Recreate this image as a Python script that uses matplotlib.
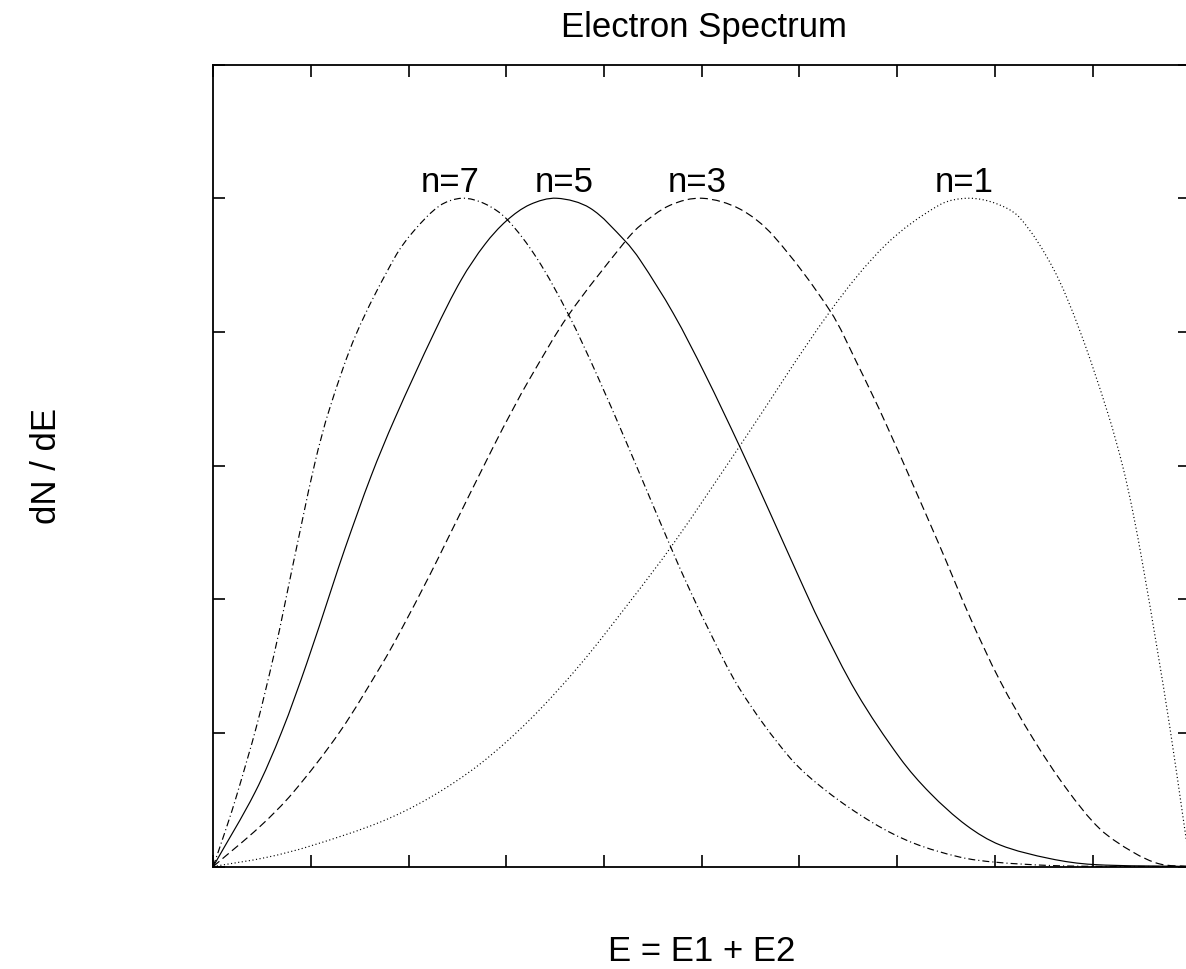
import matplotlib
matplotlib.use("Agg")
import numpy as np
import matplotlib.pyplot as plt
from matplotlib.path import Path
from matplotlib.patches import PathPatch

plt.rcParams['font.family'] = ['Liberation Sans', 'DejaVu Sans']
plt.rcParams['lines.scale_dashes'] = False

# ---- data (E/Q on x, normalized dN/dE on y) ----
n7_x = [0.0, 0.0138, 0.0241, 0.0445, 0.0622, 0.0730, 0.0807, 0.1039, 0.1192, 0.1465,
        0.1858, 0.2045, 0.2318, 0.2547, 0.2782, 0.3004, 0.3311, 0.3635, 0.3925, 0.4232,
        0.4386, 0.4709, 0.4844, 0.5051, 0.5392, 0.5904, 0.6279, 0.6756, 0.7166, 0.7644,
        0.8002, 0.8565, 0.9077, 1.0]
n7_y = [0.0, 0.0593, 0.1067, 0.2107, 0.3169, 0.3903, 0.4450, 0.6028, 0.6854, 0.7973,
        0.9113, 0.9496, 0.9888, 1.0, 0.9916, 0.9689, 0.9106, 0.8264, 0.7365, 0.6337,
        0.5806, 0.4692, 0.4247, 0.3605, 0.2650, 0.1626, 0.1127, 0.0650, 0.0351, 0.0140,
        0.0065, 0.0015, 0.0002, 0.0]

n5_x = [0.0, 0.0428, 0.0701, 0.0957, 0.1213, 0.1349, 0.1618, 0.1858, 0.2267, 0.2539,
        0.2782, 0.3004, 0.3243, 0.3516, 0.3857, 0.4215, 0.4368, 0.4709, 0.5034, 0.5392,
        0.5699, 0.6006, 0.6211, 0.6587, 0.7030, 0.7337, 0.7712, 0.8053, 0.8565, 0.9005, 1.0]
n5_y = [0.0, 0.1110, 0.2014, 0.3038, 0.4164, 0.4760, 0.5850, 0.6700, 0.8003, 0.8780,
        0.9312, 0.9666, 0.9906, 1.0, 0.9853, 0.9362, 0.9079, 0.8278, 0.7368, 0.6276,
        0.5294, 0.4296, 0.3650, 0.2597, 0.1622, 0.1100, 0.0613, 0.0323, 0.0118, 0.0030, 0.0]

n3_x = [0.0, 0.0479, 0.0817, 0.1298, 0.1725, 0.1912, 0.2216, 0.2390, 0.2867, 0.3069,
        0.3243, 0.3635, 0.4215, 0.4368, 0.4676, 0.5003, 0.5392, 0.5733, 0.6313, 0.6587,
        0.6881, 0.7422, 0.7746, 0.8053, 0.8394, 0.8736, 0.9077, 0.9418, 0.9691, 1.0]
n3_y = [0.0, 0.0599, 0.1106, 0.2020, 0.3023, 0.3509, 0.4360, 0.4873, 0.6280, 0.6846,
        0.7307, 0.8248, 0.9350, 0.9587, 0.9895, 1.0, 0.9838, 0.9439, 0.8317, 0.7540,
        0.6640, 0.4845, 0.3730, 0.2780, 0.1908, 0.1160, 0.0561, 0.0212, 0.0037, 0.0]

n1_x = [0.0, 0.0548, 0.0991, 0.1707, 0.2219, 0.2731, 0.3243, 0.3754, 0.4266, 0.4709,
        0.5392, 0.6313, 0.6886, 0.7439, 0.7723, 0.8002, 0.8251, 0.8593, 0.8865, 0.9156,
        0.9309, 0.9411, 0.9514, 0.9657, 0.9793, 0.9947, 1.0]
n1_y = [0.0, 0.0137, 0.0305, 0.0663, 0.1032, 0.1534, 0.2200, 0.3018, 0.3965, 0.4829,
        0.6297, 0.8305, 0.9307, 0.9904, 1.0, 0.9927, 0.9715, 0.8963, 0.8038, 0.6787,
        0.5990, 0.5320, 0.4520, 0.3300, 0.2070, 0.0530, 0.0]

label_text = ["n=7", "n=5", "n=3", "n=1"]
label_x = [0.2424, 0.3591, 0.4952, 0.7685]
label_y = [1.0108, 1.0108, 1.0108, 1.0108]

x_ticks = [0.0, 0.1, 0.2, 0.3, 0.4, 0.5, 0.6, 0.7, 0.8, 0.9, 1.0]
y_ticks = [0.0, 0.2, 0.4, 0.6, 0.8, 1.0, 1.2]

title = "Electron Spectrum"
xlabel = "E = E1 + E2"
ylabel = "dN / dE"

# ---- figure ----
W, H = 1186, 970
fig = plt.figure(figsize=(W / 100, H / 100), dpi=100)
ax = fig.add_axes([213.2 / W, (H - 867.5) / H, 977.0 / W, 801.9 / H])
ax.set_xlim(0, 1.0)
ax.set_ylim(0, 1.2)


def smooth_path(xs, ys, sx=977.0, sy=668.3):
    """Smooth Bezier path passing through every given data point."""
    x = np.asarray(xs, float)
    y = np.asarray(ys, float)
    d = np.hypot(np.diff(x * sx), np.diff(y * sy))
    d = np.maximum(d, 1e-6)
    t = np.concatenate([[0.0], np.cumsum(d)])
    n = len(x)
    tx = np.empty(n)
    ty = np.empty(n)
    tx[1:-1] = (x[2:] - x[:-2]) / (t[2:] - t[:-2])
    ty[1:-1] = (y[2:] - y[:-2]) / (t[2:] - t[:-2])
    tx[0] = (x[1] - x[0]) / (t[1] - t[0])
    ty[0] = (y[1] - y[0]) / (t[1] - t[0])
    tx[-1] = (x[-1] - x[-2]) / (t[-1] - t[-2])
    ty[-1] = (y[-1] - y[-2]) / (t[-1] - t[-2])
    verts = [(x[0], y[0])]
    codes = [Path.MOVETO]
    for i in range(n - 1):
        dt = t[i + 1] - t[i]
        verts.append((x[i] + tx[i] * dt / 3, y[i] + ty[i] * dt / 3))
        verts.append((x[i + 1] - tx[i + 1] * dt / 3, y[i + 1] - ty[i + 1] * dt / 3))
        verts.append((x[i + 1], y[i + 1]))
        codes += [Path.CURVE4] * 3
    return Path(verts, codes)


lw = 0.85
series = [
    (n7_x, n7_y, (0, (5.0, 2.2, 0.8, 2.2))),
    (n5_x, n5_y, '-'),
    (n3_x, n3_y, (0, (5.8, 3.0))),
    (n1_x, n1_y, (0, (0.8, 1.8))),
]
for xs, ys, ls in series:
    patch = PathPatch(smooth_path(xs, ys), fill=False, edgecolor='black',
                      lw=lw, linestyle=ls, joinstyle='round')
    ax.add_patch(patch)

ax.set_xticks(x_ticks)
ax.set_yticks(y_ticks)
ax.tick_params(direction='in', length=8.6, width=1.2, top=True, right=True,
               labelbottom=False, labelleft=False)
for s in ax.spines.values():
    s.set_linewidth(1.3)

fs = 25
for t, lx, ly in zip(label_text, label_x, label_y):
    ax.text(lx, ly, t, ha='center', va='baseline', fontsize=fs)

fig.text(704 / W, 1 - 36.7 / H, title, ha='center', va='baseline', fontsize=fs)
fig.text(701.7 / W, 1 - 961 / H, xlabel, ha='center', va='baseline', fontsize=fs)
fig.text(56 / W, 1 - 466.5 / H, ylabel, ha='center', va='baseline', fontsize=fs,
         rotation=90, rotation_mode='anchor')

fig.savefig("out.png", dpi=100)
